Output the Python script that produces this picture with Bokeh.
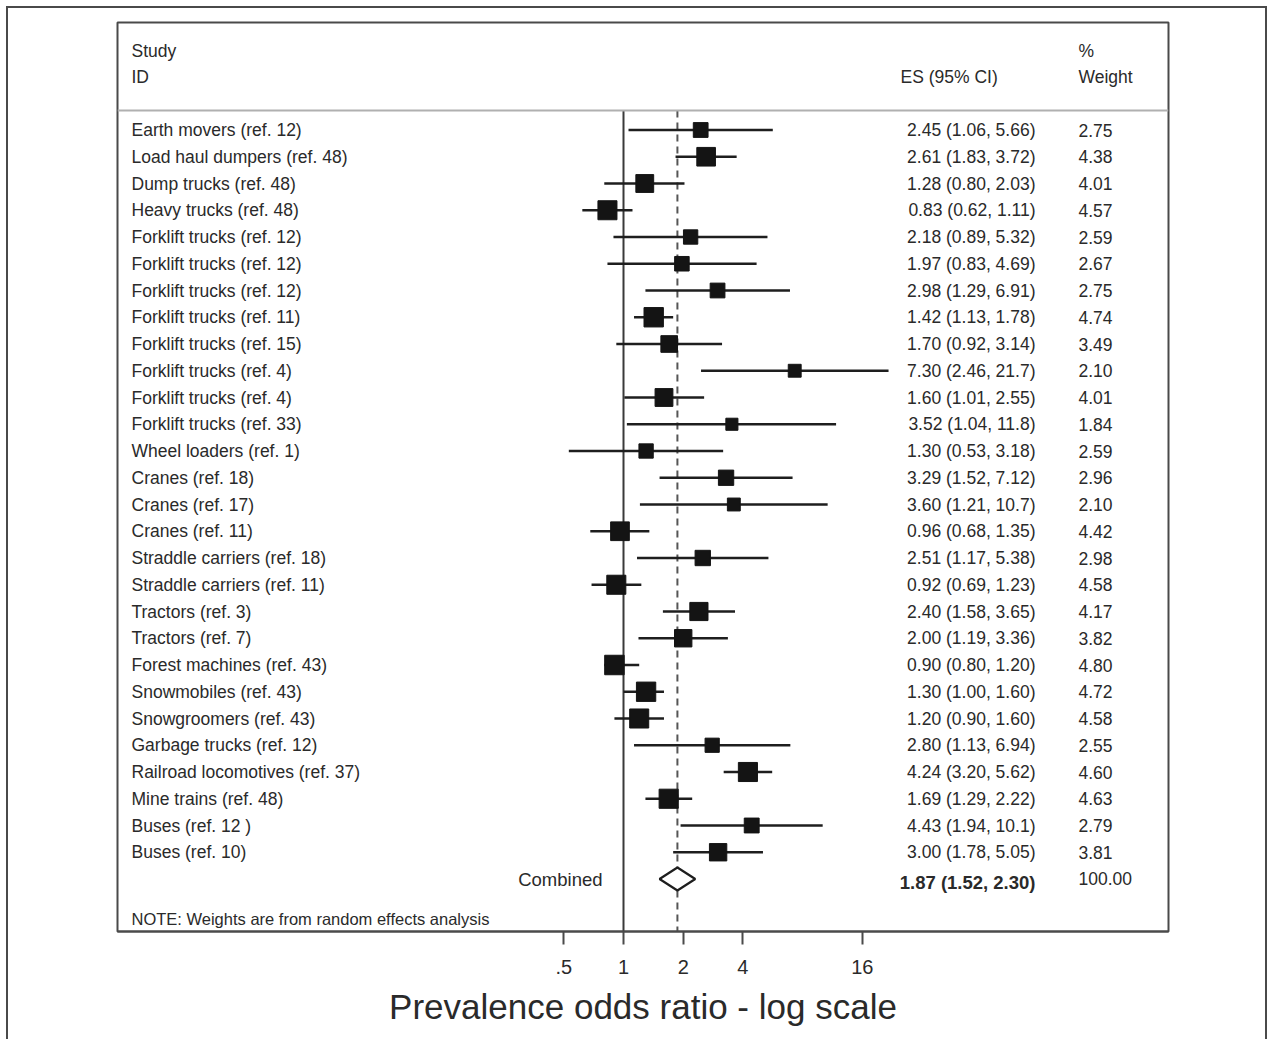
from bokeh.plotting import figure
from bokeh.models import Range1d, FixedTicker, Span, ColumnDataSource, LinearScale
from bokeh.core.properties import value
from bokeh.embed import file_html
from bokeh.resources import INLINE

# ---------------- data ----------------
studies = [
    "Earth movers (ref. 12)", "Load haul dumpers (ref. 48)", "Dump trucks (ref. 48)",
    "Heavy trucks (ref. 48)", "Forklift trucks (ref. 12)", "Forklift trucks (ref. 12)",
    "Forklift trucks (ref. 12)", "Forklift trucks (ref. 11)", "Forklift trucks (ref. 15)",
    "Forklift trucks (ref. 4)", "Forklift trucks (ref. 4)", "Forklift trucks (ref. 33)",
    "Wheel loaders (ref. 1)", "Cranes (ref. 18)", "Cranes (ref. 17)", "Cranes (ref. 11)",
    "Straddle carriers (ref. 18)", "Straddle carriers (ref. 11)", "Tractors (ref. 3)",
    "Tractors (ref. 7)", "Forest machines (ref. 43)", "Snowmobiles (ref. 43)",
    "Snowgroomers (ref. 43)", "Garbage trucks (ref. 12)", "Railroad locomotives (ref. 37)",
    "Mine trains (ref. 48)", "Buses (ref. 12 )", "Buses (ref. 10)",
]
es = [2.45, 2.61, 1.28, 0.83, 2.18, 1.97, 2.98, 1.42, 1.70, 7.30, 1.60, 3.52, 1.30, 3.29,
      3.60, 0.96, 2.51, 0.92, 2.40, 2.00, 0.90, 1.30, 1.20, 2.80, 4.24, 1.69, 4.43, 3.00]
ci_low = [1.06, 1.83, 0.80, 0.62, 0.89, 0.83, 1.29, 1.13, 0.92, 2.46, 1.01, 1.04, 0.53, 1.52,
          1.21, 0.68, 1.17, 0.69, 1.58, 1.19, 0.80, 1.00, 0.90, 1.13, 3.20, 1.29, 1.94, 1.78]
ci_high = [5.66, 3.72, 2.03, 1.11, 5.32, 4.69, 6.91, 1.78, 3.14, 21.7, 2.55, 11.8, 3.18, 7.12,
           10.7, 1.35, 5.38, 1.23, 3.65, 3.36, 1.20, 1.60, 1.60, 6.94, 5.62, 2.22, 10.1, 5.05]
weights = [2.75, 4.38, 4.01, 4.57, 2.59, 2.67, 2.75, 4.74, 3.49, 2.10, 4.01, 1.84, 2.59, 2.96,
           2.10, 4.42, 2.98, 4.58, 4.17, 3.82, 4.80, 4.72, 4.58, 2.55, 4.60, 4.63, 2.79, 3.81]
combined_label = "Combined"
combined_es = 1.87
combined_low = 1.52
combined_high = 2.30
combined_weight = 100.00
note_text = "NOTE: Weights are from random effects analysis"
x_ticks = [0.5, 1, 2, 4, 16]
x_tick_labels = [".5", "1", "2", "4", "16"]
x_title = "Prevalence odds ratio - log scale"


def fmt(v):
    return f"{v:.2f}" if v < 10 else f"{v:.1f}"


es_text = [f"{fmt(e)} ({fmt(l)}, {fmt(h)})" for e, l, h in zip(es, ci_low, ci_high)]
w_text = [f"{w:.2f}" for w in weights]
rows = list(range(len(studies)))
comb_row = len(studies)

# ---------------- figure ----------------
FONT = value("Liberation Sans")
TXT = "#2a2a2a"
EDGE = "#4a4a4a"
L, R, T, B = 117, 1168, 22, 931
row0, rowstep = 129.5, 26.75


def py(pix):
    return (pix - row0) / rowstep


p = figure(width=1270, height=1039, output_backend="svg", toolbar_location=None,
           x_axis_type="log", y_axis_location=None,
           x_range=Range1d(2 ** ((L - 623) / 59.7), 2 ** ((R - 623) / 59.7)),
           y_range=Range1d(py(B), py(T)),
           min_border_left=L, min_border_right=1270 - R, min_border_top=T,
           min_border_bottom=1039 - B)
p.extra_x_ranges = {"px": Range1d(L, R)}
p.extra_x_scales = {"px": LinearScale()}
p.xgrid.visible = False
p.ygrid.visible = False
p.outline_line_color = EDGE
p.outline_line_width = 2
p.background_fill_color = "white"
p.border_fill_color = None

# outer frame of the page (left, top and right edges)
g = f"linear-gradient({EDGE},{EDGE})"
p.styles = {
    "background": (f"{g} 6px 6px / 2px 1200px no-repeat, "
                   f"{g} 6px 6px / 1261px 2px no-repeat, "
                   f"{g} 1265px 6px / 2px 1200px no-repeat, white"),
}

# header separator
p.add_layout(Span(location=py(110), dimension="width", line_color="#b0b0b0", line_width=2))

# reference lines (null and combined estimate)
p.segment(x0=[1], x1=[1], y0=[py(110)], y1=[py(B)], line_color="#3a3a3a", line_width=2)
p.segment(x0=[combined_es], x1=[combined_es], y0=[py(110)], y1=[py(B)],
          line_color="#555555", line_width=2, line_dash="7 5")

# confidence intervals and weighted squares
src = ColumnDataSource(dict(y=rows, es=es, lo=ci_low, hi=ci_high,
                            size=[8.9 * w ** 0.5 for w in weights],
                            lab=studies, est=es_text, wt=w_text))
p.segment(x0="lo", x1="hi", y0="y", y1="y", source=src, line_color="#1e1e1e", line_width=2.5)
p.scatter(x="es", y="y", size="size", marker="square", source=src,
          fill_color="#141414", line_color="#141414")

# combined diamond
h = 11.5 / rowstep
p.patch(x=[combined_low, combined_es, combined_high, combined_es],
        y=[comb_row, comb_row - h, comb_row, comb_row + h],
        fill_color="white", line_color="#1e1e1e", line_width=2.2)

# text columns
FS = "17.5px"
p.text(x=131, y="y", text="lab", source=src, x_range_name="px", text_font=FONT,
       text_font_size=FS, text_baseline="middle", text_color=TXT)
p.text(x=1035, y="y", text="est", source=src, x_range_name="px", text_font=FONT,
       text_font_size=FS, text_baseline="middle", text_align="right", text_color=TXT)
p.text(x=1078, y="y", text="wt", source=src, x_range_name="px", text_font=FONT,
       text_font_size=FS, text_baseline="middle", text_color=TXT)

# headers
p.text(x=[131, 131], y=[py(50), py(76)], text=["Study", "ID"], x_range_name="px",
       text_font=FONT, text_font_size=FS, text_baseline="middle", text_color=TXT)
p.text(x=[900], y=[py(76)], text=["ES (95% CI)"], x_range_name="px",
       text_font=FONT, text_font_size=FS, text_baseline="middle", text_color=TXT)
p.text(x=[1078, 1078], y=[py(50), py(76)], text=["%", "Weight"], x_range_name="px",
       text_font=FONT, text_font_size=FS, text_baseline="middle", text_color=TXT)

# combined row texts
p.text(x=[602], y=[comb_row], text=[combined_label], x_range_name="px", text_font=FONT,
       text_font_size="18.5px", text_baseline="middle", text_align="right", text_color=TXT)
p.text(x=[1035], y=[comb_row + 0.12],
       text=[f"{fmt(combined_es)} ({fmt(combined_low)}, {fmt(combined_high)})"],
       x_range_name="px", text_font=FONT, text_font_size="18.5px", text_font_style="bold",
       text_baseline="middle", text_align="right", text_color=TXT)
p.text(x=[1078], y=[comb_row - 0.02], text=[f"{combined_weight:.2f}"], x_range_name="px",
       text_font=FONT, text_font_size=FS, text_baseline="middle", text_color=TXT)

# note
p.text(x=[131], y=[py(918)], text=[note_text], x_range_name="px", text_font=FONT,
       text_font_size="16.5px", text_baseline="middle", text_color=TXT)

# x axis
ax = p.xaxis[0]
ax.ticker = FixedTicker(ticks=x_ticks, minor_ticks=[])
ax.major_label_overrides = {t: s for t, s in zip(x_ticks, x_tick_labels)}
ax.axis_label = x_title
ax.axis_label_text_font = "Liberation Sans"
ax.axis_label_text_font_size = "35px"
ax.axis_label_text_font_style = "normal"
ax.axis_label_text_color = TXT
ax.axis_label_standoff = 10
ax.major_label_text_font = "Liberation Sans"
ax.major_label_text_font_size = "20px"
ax.major_label_text_color = TXT
ax.major_label_standoff = 15
ax.axis_line_color = EDGE
ax.axis_line_width = 2
ax.major_tick_line_color = EDGE
ax.major_tick_line_width = 2
ax.major_tick_out = 13
ax.major_tick_in = 0
ax.minor_tick_line_color = None

open("out.html", "w").write(file_html(p, INLINE))
